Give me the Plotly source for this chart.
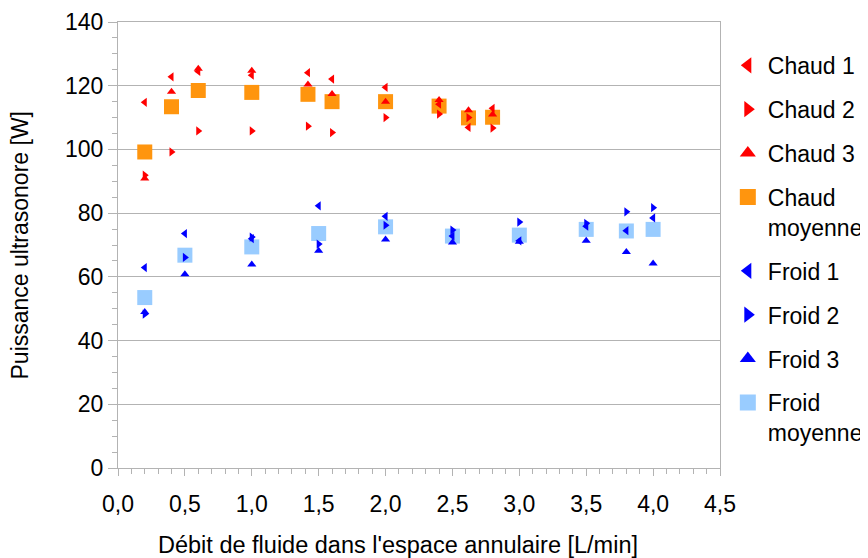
import plotly.graph_objects as go

# Débit (L/min)
debit_chaud = [0.2, 0.4, 0.6, 1.0, 1.42, 1.6, 2.0, 2.4, 2.62, 2.8]
debit_froid = [0.2, 0.5, 1.0, 1.5, 2.0, 2.5, 3.0, 3.5, 3.8, 4.0]

# Puissance ultrasonore (W)
chaud_1 = [114.8, 122.8, 124.5, 123.3, 124.1, 122.1, 119.5, 114.2, 106.9, 112.9]
chaud_2 = [91.9, 99.2, 105.8, 105.8, 107.3, 105.3, 110.0, 111.1, 110.0, 106.7]
chaud_3 = [90.9, 118.1, 125.3, 124.7, 120.4, 117.4, 115.0, 115.5, 112.3, 111.0]
chaud_moy = [99.2, 113.4, 118.5, 117.9, 117.3, 115.0, 115.0, 113.6, 109.9, 110.1]

froid_1 = [62.9, 73.6, 72.0, 82.3, 79.0, 72.8, 71.3, 75.9, 74.5, 78.5]
froid_2 = [48.3, 66.1, 72.5, 70.3, 76.2, 74.7, 77.2, 76.8, 80.4, 81.7]
froid_3 = [49.0, 60.8, 63.9, 68.2, 71.7, 70.8, 71.0, 71.3, 67.8, 64.2]
froid_moy = [53.5, 66.8, 69.4, 73.6, 75.7, 72.8, 73.1, 74.9, 74.4, 74.9]

RED = "#ff0000"
BLUE = "#0000ff"
ORANGE = "#ff950e"
LIGHT_BLUE = "#99ccff"
GRID = "#b3b3b3"
FONT = "Liberation Sans, Arial, sans-serif"

series = [
    ("Chaud 1", debit_chaud, chaud_1, "triangle-left", RED, 8, 14),
    ("Chaud 2", debit_chaud, chaud_2, "triangle-right", RED, 8, 14),
    ("Chaud 3", debit_chaud, chaud_3, "triangle-up", RED, 8, 14),
    ("Chaud<br>moyenne", debit_chaud, chaud_moy, "square", ORANGE, 15, 16),
    ("Froid 1", debit_froid, froid_1, "triangle-left", BLUE, 8, 14),
    ("Froid 2", debit_froid, froid_2, "triangle-right", BLUE, 8, 14),
    ("Froid 3", debit_froid, froid_3, "triangle-up", BLUE, 8, 14),
    ("Froid<br>moyenne", debit_froid, froid_moy, "square", LIGHT_BLUE, 15, 16),
]

fig = go.Figure()

# averages drawn first so the individual runs sit on top
order = [3, 7, 0, 1, 2, 4, 5, 6]
for i in order:
    name, x, y, sym, col, size, _ = series[i]
    fig.add_trace(go.Scatter(
        x=x, y=y, mode="markers", showlegend=False,
        marker=dict(symbol=sym, color=col, size=size, line=dict(width=0)),
    ))

# legend-only entries with bigger symbols
for k, (name, x, y, sym, col, size, lsize) in enumerate(series):
    fig.add_trace(go.Scatter(
        x=[None], y=[None], mode="markers", name=name, legendgroup=str(k),
        marker=dict(symbol=sym, color=col, size=lsize, line=dict(width=0)),
    ))

# page body has an 8px margin; figure is wider than the window so the
# legend text runs off the right edge like in the original
fig.update_layout(
    width=900,
    height=550,
    paper_bgcolor="white",
    plot_bgcolor="white",
    separators=", ",
    font=dict(family=FONT, size=23, color="black"),
    margin=dict(l=110, r=188, t=14, b=90),
    showlegend=True,
    legend=dict(
        x=1.013, xanchor="left", y=0.951, yanchor="top",
        font=dict(size=23), valign="top",
        traceorder="grouped", tracegroupgap=11,
        bgcolor="rgba(0,0,0,0)", itemsizing="trace",
    ),
    xaxis=dict(
        range=[0, 4.5], dtick=0.5, tick0=0, tickformat=".1f",
        showgrid=False, zeroline=False, automargin=False,
        showline=True, linecolor=GRID, linewidth=1, mirror=True,
        ticks="outside", ticklen=7, tickcolor=GRID,
        minor=dict(dtick=0.1, ticks="outside", ticklen=5, tickcolor=GRID),
        tickfont=dict(size=23), ticklabelstandoff=8,
    ),
    yaxis=dict(
        range=[0, 140], dtick=20, tick0=0,
        showgrid=True, gridcolor=GRID, gridwidth=1, zeroline=False,
        automargin=False,
        showline=True, linecolor=GRID, linewidth=1, mirror=True,
        ticks="outside", ticklen=9, tickcolor=GRID,
        minor=dict(dtick=5, ticks="outside", ticklen=5, tickcolor=GRID, showgrid=False),
        tickfont=dict(size=23),
    ),
)

fig.add_annotation(
    text="Débit de fluide dans l'espace annulaire [L/min]",
    xref="paper", yref="paper", x=0.465, y=-0.172,
    xanchor="center", yanchor="middle", showarrow=False,
    font=dict(size=23.5),
)
fig.add_annotation(
    text="Puissance ultrasonore [W]",
    xref="paper", yref="paper", x=-0.162, y=0.5, textangle=-90,
    xanchor="center", yanchor="middle", showarrow=False,
    font=dict(size=23),
)

fig.write_html("out.html")
